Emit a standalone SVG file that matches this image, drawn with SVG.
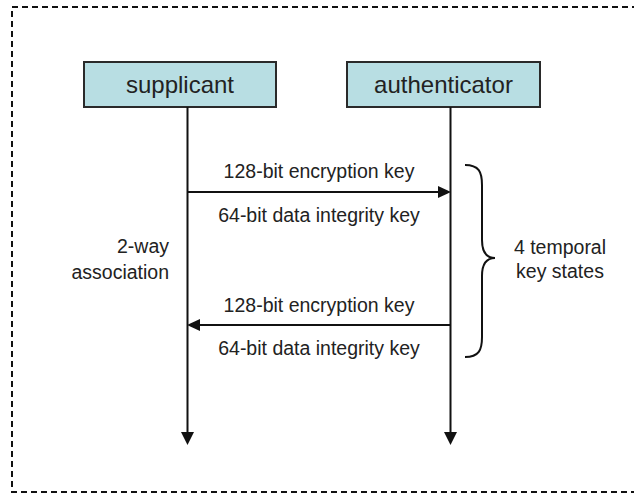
<svg xmlns="http://www.w3.org/2000/svg" width="634" height="493" viewBox="0 0 634 493">
<style>
.box{fill:#b8dee3;stroke:#2a2a2a;stroke-width:2}
.ttl{font-family:"Liberation Sans",Arial,sans-serif;font-size:24px;fill:#222;text-anchor:middle}
.lbl{font-family:"Liberation Sans",Arial,sans-serif;font-size:19.5px;fill:#222}
.ln{stroke:#111;stroke-width:2;fill:none}
.hd{fill:#111}
</style>
<rect x="0" y="0" width="634" height="493" fill="#fff"/>
<rect x="12" y="7" width="630" height="485" fill="none" stroke="#111" stroke-width="2" stroke-dasharray="6,4"/>
<g id="supplicant">
<rect class="box" x="84" y="62" width="192" height="45"/>
<text class="ttl" x="180" y="93">supplicant</text>
</g>
<g id="authenticator">
<rect class="box" x="347" y="62" width="193" height="45"/>
<text class="ttl" x="443.5" y="93">authenticator</text>
</g>
<g id="connectors">
<line class="ln" x1="187.5" y1="107" x2="187.5" y2="434"/>
<polygon class="hd" points="181,432 194,432 187.5,445"/>
<line class="ln" x1="450.5" y1="107" x2="450.5" y2="434"/>
<polygon class="hd" points="444,432 457,432 450.5,445"/>
<line class="ln" x1="187.5" y1="192" x2="440" y2="192"/>
<polygon class="hd" points="438,186 451,192 438,198"/>
<line class="ln" x1="198" y1="325" x2="450.5" y2="325"/>
<polygon class="hd" points="200,319 187,325 200,331"/>
<path class="ln" d="M465,165 C479,165 482,172 482,185 L482,240 C482,252 486,258 495,258 C486,258 482,264 482,276 L482,337 C482,350 479,357 465,357"/>
</g>
<g id="labels">
<text class="lbl" x="319" y="178" text-anchor="middle">128-bit encryption key</text>
<text class="lbl" x="319" y="222" text-anchor="middle">64-bit data integrity key</text>
<text class="lbl" x="319" y="312" text-anchor="middle">128-bit encryption key</text>
<text class="lbl" x="319" y="355" text-anchor="middle">64-bit data integrity key</text>
<text class="lbl" x="169" y="253" text-anchor="end">2-way</text>
<text class="lbl" x="169" y="279" text-anchor="end">association</text>
<text class="lbl" x="560" y="254" text-anchor="middle">4 temporal</text>
<text class="lbl" x="560" y="278" text-anchor="middle">key states</text>
</g>
</svg>
